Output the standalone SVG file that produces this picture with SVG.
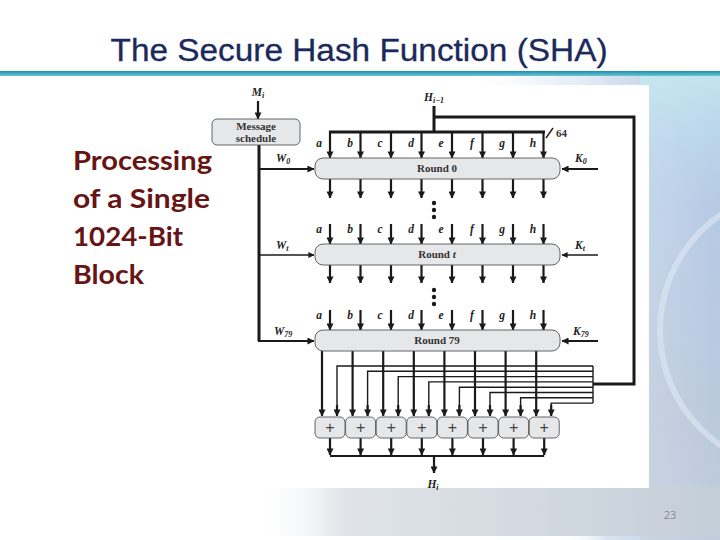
<svg xmlns="http://www.w3.org/2000/svg" width="720" height="540" viewBox="0 0 720 540">
<defs>
<linearGradient id="titleLine" x1="0" y1="0" x2="0" y2="1">
<stop offset="0" stop-color="#1b8ea6"/>
<stop offset="1" stop-color="#6cc6d6"/>
</linearGradient>
<linearGradient id="rightBg" x1="0" y1="0" x2="1" y2="0">
<stop offset="0" stop-color="#ffffff" stop-opacity="0"/>
<stop offset="0.3" stop-color="#d6e2f0"/>
<stop offset="1" stop-color="#b4c8e2"/>
</linearGradient>
<linearGradient id="rightV" x1="0" y1="0" x2="0" y2="1">
<stop offset="0" stop-color="#c4eaf2" stop-opacity="0.8"/>
<stop offset="0.3" stop-color="#b8cce8" stop-opacity="0.3"/>
<stop offset="0.7" stop-color="#c2c8d2" stop-opacity="0.4"/>
<stop offset="1" stop-color="#c8d0dc" stop-opacity="0.6"/>
</linearGradient>
<linearGradient id="bottomBg" x1="0" y1="0" x2="1" y2="0">
<stop offset="0" stop-color="#ffffff" stop-opacity="0"/>
<stop offset="0.2" stop-color="#e0e4e8"/>
<stop offset="1" stop-color="#c4ced8"/>
</linearGradient>
<linearGradient id="topBg" x1="0" y1="0" x2="1" y2="0">
<stop offset="0" stop-color="#ffffff" stop-opacity="0"/>
<stop offset="0.5" stop-color="#d8e6f2"/>
<stop offset="1" stop-color="#b6e0ee"/>
</linearGradient>
<marker id="ah" viewBox="0 0 8 8" refX="7.5" refY="4" markerWidth="7" markerHeight="7" markerUnits="userSpaceOnUse" orient="auto">
<path d="M0,0 L8,4 L0,8 z" fill="#1a1a1a"/>
</marker>
<marker id="ahs" viewBox="0 0 8 8" refX="7.5" refY="4" markerWidth="6" markerHeight="6" markerUnits="userSpaceOnUse" orient="auto">
<path d="M0,0 L8,4 L0,8 z" fill="#1a1a1a"/>
</marker>
<style>
.title{font-family:"Liberation Sans",Arial,sans-serif;font-size:31px;fill:#1b2a5c;stroke:#1b2a5c;stroke-width:0.3;}
.side{font-family:Lato,"Open Sans",sans-serif;font-weight:bold;font-size:27px;fill:#661414;}
.lbl{font-family:"Liberation Serif","Times New Roman",serif;font-style:italic;font-weight:bold;font-size:11.5px;fill:#222;}
.rt{font-family:"Liberation Serif","Times New Roman",serif;font-weight:bold;font-size:11px;fill:#333;}
.box{fill:#e6e7e9;stroke:#555;stroke-width:0.9;}
.w{stroke:#1a1a1a;fill:none;stroke-width:2.2;}
.thk{stroke:#1a1a1a;fill:none;stroke-width:3;}
.thn{stroke:#1a1a1a;fill:none;stroke-width:1.4;}
.a{stroke:#1a1a1a;fill:none;stroke-width:2.2;marker-end:url(#ah);}
.as{stroke:#1a1a1a;fill:none;stroke-width:1.4;marker-end:url(#ahs);}
.plus{font-family:"Liberation Sans",sans-serif;font-size:16px;fill:#444;}
.pg{font-family:"Open Sans","Liberation Sans",sans-serif;font-size:11px;fill:#8a8a8a;}
</style>
</defs>

<g id="background">
<rect x="0" y="0" width="720" height="540" fill="#ffffff"/>
<rect x="460" y="76" width="260" height="14" fill="url(#topBg)"/>
<rect x="560" y="76" width="160" height="464" fill="url(#rightBg)"/>
<rect x="640" y="76" width="80" height="464" fill="url(#rightV)"/>
<circle cx="800" cy="330" r="140" fill="none" stroke="#dfe8f4" stroke-width="6" opacity="0.6"/>
<rect x="250" y="486" width="470" height="50" fill="url(#bottomBg)"/>
<text class="pg" x="670" y="519" text-anchor="middle">23</text>
</g>

<g id="title">
<text class="title" x="359" y="61" text-anchor="middle" textLength="497" lengthAdjust="spacingAndGlyphs">The Secure Hash Function (SHA)</text>
<rect x="0" y="71" width="720" height="5" fill="url(#titleLine)"/>
</g>

<g id="side-text">
<text class="side" x="73" y="170" textLength="139" lengthAdjust="spacingAndGlyphs">Processing</text>
<text class="side" x="73" y="208" textLength="137" lengthAdjust="spacingAndGlyphs">of a Single</text>
<text class="side" x="73" y="246" textLength="110" lengthAdjust="spacingAndGlyphs">1024-Bit</text>
<text class="side" x="73" y="284" textLength="71" lengthAdjust="spacingAndGlyphs">Block</text>
</g>

<rect id="diagram-panel" x="245" y="85" width="404" height="403" fill="#ffffff"/>

<g id="labels">
<text class="lbl" x="258" y="96" text-anchor="middle">M<tspan font-size="8" dy="2">i</tspan></text>
<text class="lbl" x="434" y="101" text-anchor="middle">H<tspan font-size="8" dy="2">i−1</tspan></text>
<text class="rt" x="556" y="137" font-size="10">64</text>
<text class="lbl" x="433" y="488" text-anchor="middle">H<tspan font-size="8" dy="2">i</tspan></text>
<text class="lbl" x="276" y="162">W<tspan font-size="8" dy="2">0</tspan></text>
<text class="lbl" x="276" y="249">W<tspan font-size="8" dy="2">t</tspan></text>
<text class="lbl" x="274" y="335">W<tspan font-size="8" dy="2">79</tspan></text>
<text class="lbl" x="575" y="162">K<tspan font-size="8" dy="2">0</tspan></text>
<text class="lbl" x="575" y="249">K<tspan font-size="8" dy="2">t</tspan></text>
<text class="lbl" x="573" y="335">K<tspan font-size="8" dy="2">79</tspan></text>
<g id="letters-0">
<text class="lbl" x="319" y="147" text-anchor="middle">a</text>
<text class="lbl" x="350" y="147" text-anchor="middle">b</text>
<text class="lbl" x="380" y="147" text-anchor="middle">c</text>
<text class="lbl" x="411" y="147" text-anchor="middle">d</text>
<text class="lbl" x="441" y="147" text-anchor="middle">e</text>
<text class="lbl" x="472" y="147" text-anchor="middle">f</text>
<text class="lbl" x="502" y="147" text-anchor="middle">g</text>
<text class="lbl" x="533" y="147" text-anchor="middle">h</text>
</g>
<g id="letters-t">
<text class="lbl" x="319" y="233" text-anchor="middle">a</text>
<text class="lbl" x="350" y="233" text-anchor="middle">b</text>
<text class="lbl" x="380" y="233" text-anchor="middle">c</text>
<text class="lbl" x="411" y="233" text-anchor="middle">d</text>
<text class="lbl" x="441" y="233" text-anchor="middle">e</text>
<text class="lbl" x="472" y="233" text-anchor="middle">f</text>
<text class="lbl" x="502" y="233" text-anchor="middle">g</text>
<text class="lbl" x="533" y="233" text-anchor="middle">h</text>
</g>
<g id="letters-79">
<text class="lbl" x="319" y="319" text-anchor="middle">a</text>
<text class="lbl" x="350" y="319" text-anchor="middle">b</text>
<text class="lbl" x="380" y="319" text-anchor="middle">c</text>
<text class="lbl" x="411" y="319" text-anchor="middle">d</text>
<text class="lbl" x="441" y="319" text-anchor="middle">e</text>
<text class="lbl" x="472" y="319" text-anchor="middle">f</text>
<text class="lbl" x="502" y="319" text-anchor="middle">g</text>
<text class="lbl" x="533" y="319" text-anchor="middle">h</text>
</g>
</g>

<g id="connectors">
<line class="a" x1="258" y1="101" x2="258" y2="119"/>
<polyline class="thk" points="259,145 259,341"/>
<line class="a" x1="259" y1="169" x2="314" y2="169"/>
<line class="as" x1="259" y1="255" x2="314" y2="255"/>
<line class="a" x1="258" y1="341" x2="314" y2="341"/>
<line class="a" x1="598" y1="169" x2="562" y2="169"/>
<line class="as" x1="598" y1="255" x2="562" y2="255"/>
<line class="a" x1="598" y1="341" x2="562" y2="341"/>
<line class="thk" x1="434" y1="106" x2="434" y2="132"/>
<line class="thk" x1="329" y1="132" x2="545" y2="132"/>
<polyline class="thk" points="434,117 634,117 634,384 593,384"/>
<line class="thn" x1="546" y1="138" x2="553" y2="128"/>
<line class="a" x1="330" y1="131" x2="330" y2="158"/>
<line class="a" x1="360.5" y1="131" x2="360.5" y2="158"/>
<line class="a" x1="391" y1="131" x2="391" y2="158"/>
<line class="a" x1="421.5" y1="131" x2="421.5" y2="158"/>
<line class="a" x1="452" y1="131" x2="452" y2="158"/>
<line class="a" x1="482.5" y1="131" x2="482.5" y2="158"/>
<line class="a" x1="513" y1="131" x2="513" y2="158"/>
<line class="a" x1="543.5" y1="131" x2="543.5" y2="158"/>
<line class="a" x1="330" y1="179" x2="330" y2="198"/>
<line class="a" x1="360.5" y1="179" x2="360.5" y2="198"/>
<line class="a" x1="391" y1="179" x2="391" y2="198"/>
<line class="a" x1="421.5" y1="179" x2="421.5" y2="198"/>
<line class="a" x1="452" y1="179" x2="452" y2="198"/>
<line class="a" x1="482.5" y1="179" x2="482.5" y2="198"/>
<line class="a" x1="513" y1="179" x2="513" y2="198"/>
<line class="a" x1="543.5" y1="179" x2="543.5" y2="198"/>
<line class="a" x1="330" y1="224" x2="330" y2="244"/>
<line class="a" x1="360.5" y1="224" x2="360.5" y2="244"/>
<line class="a" x1="391" y1="224" x2="391" y2="244"/>
<line class="a" x1="421.5" y1="224" x2="421.5" y2="244"/>
<line class="a" x1="452" y1="224" x2="452" y2="244"/>
<line class="a" x1="482.5" y1="224" x2="482.5" y2="244"/>
<line class="a" x1="513" y1="224" x2="513" y2="244"/>
<line class="a" x1="543.5" y1="224" x2="543.5" y2="244"/>
<line class="a" x1="330" y1="265" x2="330" y2="283"/>
<line class="a" x1="360.5" y1="265" x2="360.5" y2="283"/>
<line class="a" x1="391" y1="265" x2="391" y2="283"/>
<line class="a" x1="421.5" y1="265" x2="421.5" y2="283"/>
<line class="a" x1="452" y1="265" x2="452" y2="283"/>
<line class="a" x1="482.5" y1="265" x2="482.5" y2="283"/>
<line class="a" x1="513" y1="265" x2="513" y2="283"/>
<line class="a" x1="543.5" y1="265" x2="543.5" y2="283"/>
<line class="a" x1="330" y1="310" x2="330" y2="330"/>
<line class="a" x1="360.5" y1="310" x2="360.5" y2="330"/>
<line class="a" x1="391" y1="310" x2="391" y2="330"/>
<line class="a" x1="421.5" y1="310" x2="421.5" y2="330"/>
<line class="a" x1="452" y1="310" x2="452" y2="330"/>
<line class="a" x1="482.5" y1="310" x2="482.5" y2="330"/>
<line class="a" x1="513" y1="310" x2="513" y2="330"/>
<line class="a" x1="543.5" y1="310" x2="543.5" y2="330"/>
<circle cx="434" cy="203" r="2.2" fill="#1a1a1a"/>
<circle cx="434" cy="210" r="2.2" fill="#1a1a1a"/>
<circle cx="434" cy="217" r="2.2" fill="#1a1a1a"/>
<circle cx="434" cy="290" r="2.2" fill="#1a1a1a"/>
<circle cx="434" cy="297" r="2.2" fill="#1a1a1a"/>
<circle cx="434" cy="304" r="2.2" fill="#1a1a1a"/>
<line class="a" x1="322" y1="351" x2="322" y2="416"/>
<line class="a" x1="352.6" y1="351" x2="352.6" y2="416"/>
<line class="a" x1="383.2" y1="351" x2="383.2" y2="416"/>
<line class="a" x1="413.8" y1="351" x2="413.8" y2="416"/>
<line class="a" x1="444.4" y1="351" x2="444.4" y2="416"/>
<line class="a" x1="475" y1="351" x2="475" y2="416"/>
<line class="a" x1="505.6" y1="351" x2="505.6" y2="416"/>
<line class="a" x1="536.2" y1="351" x2="536.2" y2="416"/>
<line class="thn" x1="593" y1="366" x2="593" y2="403.1"/>
<polyline class="thn" points="593,366 337,366 337,410"/>
<polyline class="thn" points="593,371.3 367.6,371.3 367.6,410"/>
<polyline class="thn" points="593,376.6 398.2,376.6 398.2,410"/>
<polyline class="thn" points="593,381.9 428.8,381.9 428.8,410"/>
<polyline class="thn" points="593,387.2 459.4,387.2 459.4,410"/>
<polyline class="thn" points="593,392.5 490,392.5 490,410"/>
<polyline class="thn" points="593,397.8 520.6,397.8 520.6,410"/>
<polyline class="thn" points="593,403.1 551.2,403.1 551.2,410"/>
<line class="a" x1="337" y1="405" x2="337" y2="416"/>
<line class="a" x1="367.6" y1="405" x2="367.6" y2="416"/>
<line class="a" x1="398.2" y1="405" x2="398.2" y2="416"/>
<line class="a" x1="428.8" y1="405" x2="428.8" y2="416"/>
<line class="a" x1="459.4" y1="405" x2="459.4" y2="416"/>
<line class="a" x1="490" y1="405" x2="490" y2="416"/>
<line class="a" x1="520.6" y1="405" x2="520.6" y2="416"/>
<line class="a" x1="551.2" y1="405" x2="551.2" y2="416"/>
<line class="a" x1="330" y1="438" x2="330" y2="455"/>
<line class="a" x1="360.6" y1="438" x2="360.6" y2="455"/>
<line class="a" x1="391.2" y1="438" x2="391.2" y2="455"/>
<line class="a" x1="421.8" y1="438" x2="421.8" y2="455"/>
<line class="a" x1="452.4" y1="438" x2="452.4" y2="455"/>
<line class="a" x1="483" y1="438" x2="483" y2="455"/>
<line class="a" x1="513.6" y1="438" x2="513.6" y2="455"/>
<line class="a" x1="544.2" y1="438" x2="544.2" y2="455"/>
<line class="w" x1="330" y1="456" x2="544.2" y2="456"/>
<line class="a" x1="434" y1="456" x2="434" y2="473"/>
</g>

<g id="message-schedule">
<rect class="box" x="212" y="119" width="88" height="26" rx="5"/>
<text class="rt" x="256" y="130" text-anchor="middle">Message</text>
<text class="rt" x="256" y="142" text-anchor="middle">schedule</text>
</g>
<g id="round-0">
<rect class="box" x="315" y="158" width="245" height="21" rx="8"/>
<text class="rt" x="437" y="172" text-anchor="middle">Round 0</text>
</g>
<g id="round-t">
<rect class="box" x="315" y="244" width="245" height="21" rx="8"/>
<text class="rt" x="437" y="258" text-anchor="middle">Round <tspan font-style="italic">t</tspan></text>
</g>
<g id="round-79">
<rect class="box" x="315" y="330" width="245" height="21" rx="8"/>
<text class="rt" x="437" y="344" text-anchor="middle">Round 79</text>
</g>
<g id="adders">
<g id="add-a"><rect class="box" x="315" y="417" width="30" height="21" rx="5"/><text class="plus" x="330" y="433" text-anchor="middle">+</text></g>
<g id="add-b"><rect class="box" x="345.6" y="417" width="30" height="21" rx="5"/><text class="plus" x="360.6" y="433" text-anchor="middle">+</text></g>
<g id="add-c"><rect class="box" x="376.2" y="417" width="30" height="21" rx="5"/><text class="plus" x="391.2" y="433" text-anchor="middle">+</text></g>
<g id="add-d"><rect class="box" x="406.8" y="417" width="30" height="21" rx="5"/><text class="plus" x="421.8" y="433" text-anchor="middle">+</text></g>
<g id="add-e"><rect class="box" x="437.4" y="417" width="30" height="21" rx="5"/><text class="plus" x="452.4" y="433" text-anchor="middle">+</text></g>
<g id="add-f"><rect class="box" x="468" y="417" width="30" height="21" rx="5"/><text class="plus" x="483" y="433" text-anchor="middle">+</text></g>
<g id="add-g"><rect class="box" x="498.6" y="417" width="30" height="21" rx="5"/><text class="plus" x="513.6" y="433" text-anchor="middle">+</text></g>
<g id="add-h"><rect class="box" x="529.2" y="417" width="30" height="21" rx="5"/><text class="plus" x="544.2" y="433" text-anchor="middle">+</text></g>
</g>
</svg>
